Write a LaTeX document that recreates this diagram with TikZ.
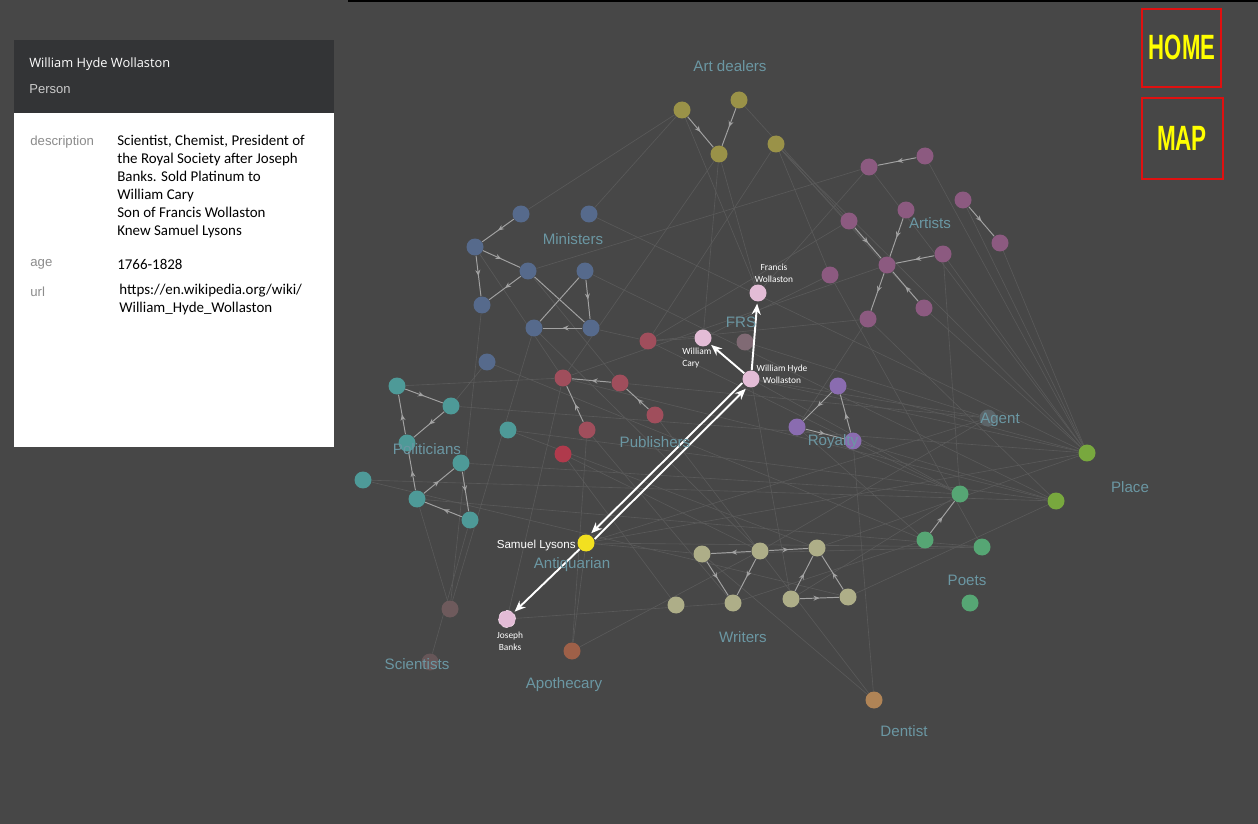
\documentclass[tikz,border=0pt]{standalone}
\usepackage{fontspec}
\setmainfont{Liberation Sans}
\newfontfamily\cali{Carlito}
\newfontfamily\opens{Open Sans}
\usetikzlibrary{arrows.meta,decorations.markings}
\pgfdeclarelayer{canvas}
\pgfdeclarelayer{edges}
\pgfsetlayers{canvas,edges,main}
\definecolor{bgGray}{HTML}{474747}
\definecolor{headGray}{HTML}{333436}
\definecolor{keyGray}{HTML}{8C8C8C}
\definecolor{catBlue}{HTML}{6B97A3}
\definecolor{linkGray}{HTML}{A2A2A2}
\definecolor{faintGray}{HTML}{5A5A5A}
\definecolor{adC}{HTML}{9A9248}
\definecolor{arC}{HTML}{8C5A80}
\definecolor{miC}{HTML}{566A8C}
\definecolor{poC}{HTML}{4E9A98}
\definecolor{puC}{HTML}{A04E5C}
\definecolor{pucC}{HTML}{B03A4C}
\definecolor{frsC}{HTML}{E3BCD6}
\definecolor{frsfC}{HTML}{806A74}
\definecolor{roC}{HTML}{8A6CB0}
\definecolor{agC}{HTML}{5C6468}
\definecolor{plC}{HTML}{78A83E}
\definecolor{ptC}{HTML}{56A674}
\definecolor{wrC}{HTML}{AEAE88}
\definecolor{scC}{HTML}{6E5A5C}
\definecolor{apC}{HTML}{9E6048}
\definecolor{deC}{HTML}{B08456}
\definecolor{slC}{HTML}{F2E020}
\definecolor{btnRed}{HTML}{E01010}
\definecolor{btnYel}{HTML}{FFFF00}

\tikzset{
  nd/.style={circle,inner sep=0pt,minimum size=0.34cm},
  link/.style={draw=linkGray,line width=0.55pt,postaction={decorate},
    decoration={markings,mark=at position 0.5 with {\arrow{Stealth[length=1.2mm,width=1mm]}}}},
  plain/.style={draw=linkGray,line width=0.55pt},
  faint/.style={draw=faintGray,line width=0.35pt},
  hl/.style={draw=white,line width=1.1pt,-{Stealth[length=2.2mm,width=1.8mm]},shorten >=1pt},
  cat/.style={text=catBlue,font=\fontsize{8.6}{10}\selectfont},
  who/.style={text=white,font=\cali\fontsize{5.35}{6.8}\selectfont,align=center,inner sep=0pt},
  btn/.style={draw=btnRed,line width=1.2pt},
  btntext/.style={text=btnYel,font=\bfseries\fontsize{20}{20}\selectfont,inner sep=0pt},
  desc/.style={anchor=north west,align=left,inner sep=0pt,font=\cali\fontsize{8.5}{10.2}\selectfont},
}

\begin{document}
\begin{tikzpicture}[x=0.02cm,y=-0.02cm]
  \path[use as bounding box] (0,0) rectangle (1258,824);
  \begin{pgfonlayer}{canvas}
    \fill[bgGray] (0,0) rectangle (1258,824);
    \fill[black] (348,0) rectangle (1258,1.6);
  \end{pgfonlayer}

  % nodes
  \node[nd,fill=adC] (ad1) at (682,110) {};
  \node[nd,fill=adC] (ad2) at (739,100) {};
  \node[nd,fill=adC] (ad3) at (719,154) {};
  \node[nd,fill=adC] (ad4) at (776,144) {};
  \node[nd,fill=arC] (ar1) at (869,167) {};
  \node[nd,fill=arC] (ar2) at (925,156) {};
  \node[nd,fill=arC] (ar3) at (849,221) {};
  \node[nd,fill=arC] (ar4) at (906,210) {};
  \node[nd,fill=arC] (ar5) at (963,200) {};
  \node[nd,fill=arC] (ar6) at (1000,243) {};
  \node[nd,fill=arC] (ar7) at (887,265) {};
  \node[nd,fill=arC] (ar8) at (943,254) {};
  \node[nd,fill=arC] (ar9) at (830,275) {};
  \node[nd,fill=arC] (ar10) at (868,319) {};
  \node[nd,fill=arC] (ar11) at (924,308) {};
  \node[nd,fill=miC] (mi1) at (521,214) {};
  \node[nd,fill=miC] (mi2) at (589,214) {};
  \node[nd,fill=miC] (mi3) at (475,247) {};
  \node[nd,fill=miC] (mi4) at (528,271) {};
  \node[nd,fill=miC] (mi5) at (585,271) {};
  \node[nd,fill=miC] (mi6) at (482,305) {};
  \node[nd,fill=miC] (mi7) at (534,328) {};
  \node[nd,fill=miC] (mi8) at (591,328) {};
  \node[nd,fill=miC] (mi9) at (487,362) {};
  \node[nd,fill=poC] (po1) at (397,386) {};
  \node[nd,fill=poC] (po2) at (451,406) {};
  \node[nd,fill=poC] (po3) at (407,443) {};
  \node[nd,fill=poC] (po4) at (461,463) {};
  \node[nd,fill=poC] (po5) at (363,480) {};
  \node[nd,fill=poC] (po6) at (417,499) {};
  \node[nd,fill=poC] (po7) at (470,520) {};
  \node[nd,fill=poC] (po8) at (508,430) {};
  \node[nd,fill=puC] (pu1) at (648,341) {};
  \node[nd,fill=puC] (pu2) at (563,378) {};
  \node[nd,fill=puC] (pu3) at (620,383) {};
  \node[nd,fill=puC] (pu4) at (655,415) {};
  \node[nd,fill=puC] (pu5) at (587,430) {};
  \node[nd,fill=pucC] (pu6) at (563,454) {};
  \node[nd,fill=frsC] (fw) at (758,293) {};
  \node[nd,fill=frsC] (wc) at (703,338) {};
  \node[nd,fill=frsC] (whw) at (751,379) {};
  \node[nd,fill=frsfC] (frs) at (745,342) {};
  \node[nd,fill=roC] (ro1) at (838,386) {};
  \node[nd,fill=roC] (ro2) at (797,427) {};
  \node[nd,fill=roC] (ro3) at (853,441) {};
  \node[nd,fill=agC] (ag) at (988,418) {};
  \node[nd,fill=plC] (pl1) at (1087,453) {};
  \node[nd,fill=plC] (pl2) at (1056,501) {};
  \node[nd,fill=ptC] (pt1) at (960,494) {};
  \node[nd,fill=ptC] (pt2) at (925,540) {};
  \node[nd,fill=ptC] (pt3) at (982,547) {};
  \node[nd,fill=ptC] (pt4) at (970,603) {};
  \node[nd,fill=wrC] (wr1) at (702,554) {};
  \node[nd,fill=wrC] (wr2) at (760,551) {};
  \node[nd,fill=wrC] (wr3) at (817,548) {};
  \node[nd,fill=wrC] (wr4) at (676,605) {};
  \node[nd,fill=wrC] (wr5) at (733,603) {};
  \node[nd,fill=wrC] (wr6) at (791,599) {};
  \node[nd,fill=wrC] (wr7) at (848,597) {};
  \node[nd,fill=scC] (sc1) at (450,609) {};
  \node[nd,fill=scC!80!bgGray] (sc2) at (430,662) {};
  \node[nd,fill=apC] (ap) at (572,651) {};
  \node[nd,fill=deC] (de) at (874,700) {};
  \node[nd,fill=slC] (sl) at (586,543) {};
  \node[nd,fill=frsC,draw=frsC!60!white,densely dashed,line width=0.4pt] (jb) at (507,619) {};

  \begin{pgfonlayer}{edges}
  % faint background links
  \foreach \a/\b in {ad1/mi2,ad1/mi1,ad3/fw,ad3/wc,ad3/pu2,ad4/pu1,ad4/ar9,ad4/pl1,
      ad4/ar7,ad4/ar11,ad2/ar3,ar2/pl1,ar1/pl1,ar6/pl1,ar5/pl1,ar8/pl1,ar11/pl1,
      ar10/pl2,ar9/pt3,ar3/pu1,ar7/pu2,ar9/wc,ar10/ro2,ar1/mi4,fw/ar1,fw/ad1,
      mi2/pl1,mi5/pl2,mi9/pt2,mi7/wr2,mi6/sc1,mi8/pu1,mi9/po2,mi4/pu3,
      po2/pl1,po5/pl2,po5/wr7,po6/pt3,po8/wr3,po1/pu2,po4/pt1,
      pu1/pt1,pu2/pl2,pu4/de,pu6/wr2,pu3/ag,pu5/wr5,pu1/ar10,
      whw/ag,whw/pt1,whw/wr6,whw/pl1,sl/pl1,sl/wr1,sl/ag,sl/ap,sl/pt3,
      jb/wr5,jb/pu2,sc1/po6,sc1/mi7,sc2/po7,ap/wr2,ap/pu5,de/wr1,de/ro3,
      wr7/pl2,wr3/pl1,wr1/pt3,wr5/pt2,wr6/pt1,wr4/pu6,ro1/pl1,ro2/pt1,
      ro3/pl2,wc/pu1,frs/ag,pt1/ar8,pt2/ro2,wr2/ag,mi3/pu2,po8/pl2}
    \draw[faint] (\a) -- (\b);

  % group links
  \foreach \a/\b in {ad1/ad3,ad2/ad3,ar2/ar1,ar3/ar7,ar4/ar7,ar5/ar6,ar8/ar7,ar7/ar10,
      ar11/ar7,mi1/mi3,mi3/mi4,mi3/mi6,mi4/mi6,mi5/mi8,mi8/mi7,po1/po2,po3/po1,
      po2/po3,po6/po3,po6/po4,po4/po7,po7/po6,pu3/pu2,pu4/pu3,pu5/pu2,ro1/ro2,
      ro3/ro1,ro2/ro3,pt2/pt1,wr2/wr1,wr1/wr5,wr2/wr5,wr2/wr3,wr6/wr7,wr6/wr3,wr7/wr3}
    \draw[link] (\a) -- (\b);
  \draw[plain] (mi4) -- (mi8);
  \draw[plain] (mi5) -- (mi7);
  \end{pgfonlayer}

  % selected person
  \draw[hl] (whw) -- (fw);
  \draw[hl] (whw) -- (wc);
  \draw[hl,transform canvas={shift={(-2.3,-2.3)}}] (whw) -- (sl);
  \draw[hl,transform canvas={shift={(2.3,2.3)}}] (sl) -- (whw);
  \draw[hl] (sl) -- (jb);

  % names
  \node[who] (fwL) at (774,273) {Francis\\Wollaston};
  \node[who,align=left,anchor=west] (wcL) at (682,358) {William\\Cary};
  \node[who] (whwL) at (782,374) {William Hyde\\Wollaston};
  \node[who] (jbL) at (510,641) {Joseph\\Banks};
  \node[text=white,font=\fontsize{6.6}{8}\selectfont,anchor=east,inner sep=0pt] (slL) at (576,545) {Samuel Lysons};

  % categories
  \node[cat] (cAd) at (730,66) {Art dealers};
  \node[cat] (cMi) at (573,239) {Ministers};
  \node[cat] (cAr) at (930,223) {Artists};
  \node[cat] (cFrs) at (741,322) {FRS};
  \node[cat] (cPo) at (427,449) {Politicians};
  \node[cat] (cPu) at (655,442) {Publishers};
  \node[cat] (cRo) at (833,442) {Royalty};
  \node[cat] (cAg) at (1000,420) {Agent};
  \node[cat] (cPl) at (1130,487) {Place};
  \node[cat] (cPt) at (967,580) {Poets};
  \node[cat] (cAq) at (572,565) {Antiquarian};
  \node[cat] (cWr) at (743,637) {Writers};
  \node[cat] (cSc) at (417,664) {Scientists};
  \node[cat] (cAp) at (564,685) {Apothecary};
  \node[cat] (cDe) at (904,731) {Dentist};

  % info panel
  \fill[headGray] (14,40) rectangle (334,113);
  \fill[white] (14,113) rectangle (334,447);
  \node[anchor=west,inner sep=0pt,text=white,font=\opens\fontsize{7.3}{9}\selectfont] (pName) at (29,64) {William Hyde Wollaston};
  \node[anchor=west,inner sep=0pt,text=white!80!black,font=\fontsize{7.4}{9}\selectfont] (pType) at (29,89) {Person};
  \begin{scope}[every node/.style={anchor=west,inner sep=0pt,text=keyGray,font=\fontsize{7.5}{9}\selectfont}]
    \node (kDesc) at (30,142) {description};
    \node (kAge) at (30,264) {age};
    \node (kUrl) at (30,292) {url};
  \end{scope}
  \node[desc] (vDesc) at (117,135)
    {Scientist, Chemist, President of\\the Royal Society after Joseph\\Banks. Sold Platinum to\\William Cary\\Son of Francis Wollaston\\Knew Samuel Lysons};
  \node[anchor=west,inner sep=0pt,font=\cali\fontsize{8.5}{10.2}\selectfont] (vAge) at (117,264) {1766-1828};
  \node[desc] (vUrl) at (119,284)
    {https://en.wikipedia.org/wiki/\\William\_Hyde\_Wollaston};

  % buttons
  \draw[btn] (1142,9) rectangle (1221,87);
  \draw[btn] (1142,98) rectangle (1223,179);
  \node[btntext] (home) at (1182,47) {\scalebox{0.63}[1]{HOME}};
  \node[btntext] (map) at (1182,138) {\scalebox{0.64}[1]{MAP}};
\end{tikzpicture}
\end{document}
